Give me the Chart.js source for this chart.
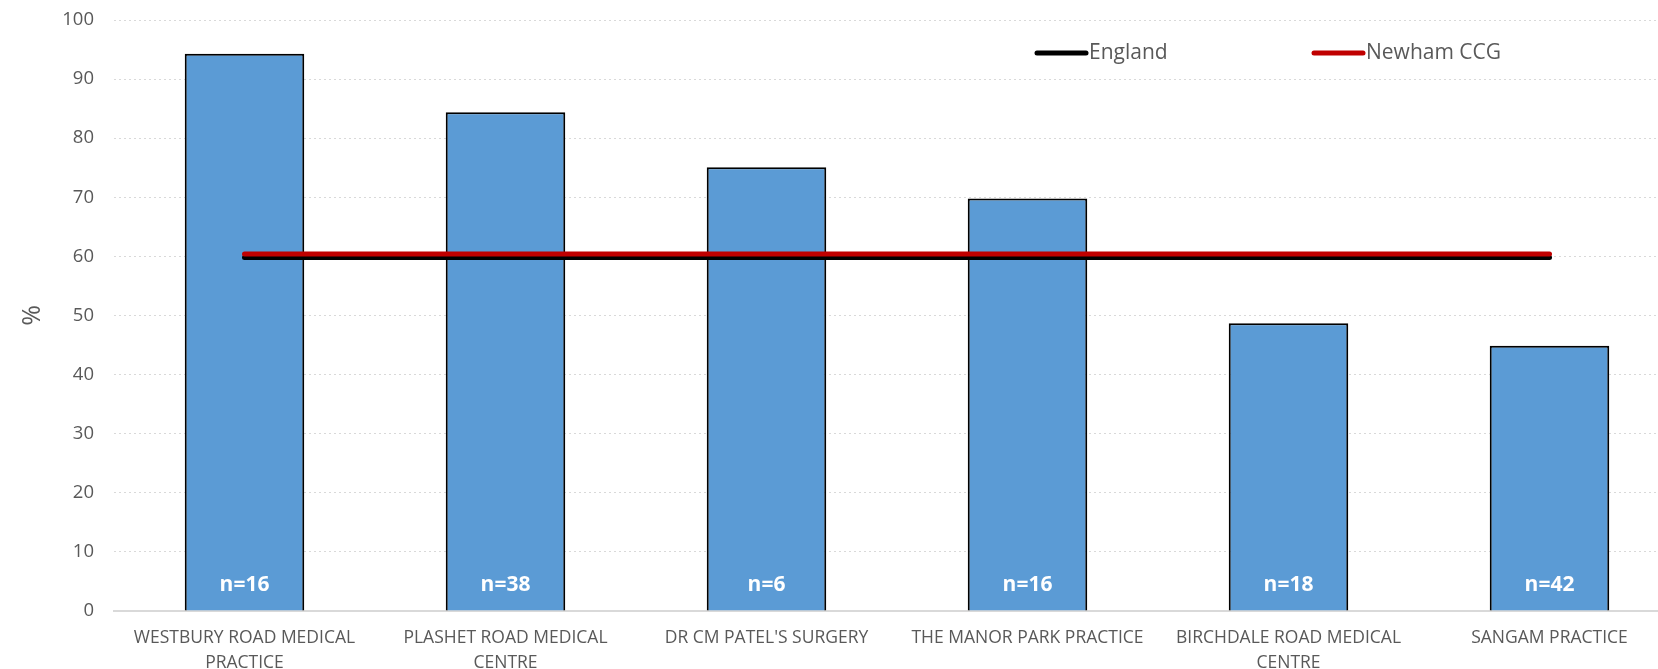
<!DOCTYPE html>
<html lang="en">
<head>
  <meta charset="UTF-8">
  <title>Practice chart</title>
  <script src="https://cdn.jsdelivr.net/npm/chart.js"></script>
  <style>
    html, body { margin: 0; background: #fff; overflow: hidden; }
    #wrap { width: 1658px; height: 669px; overflow: hidden; }
  </style>
</head>
<body>
  <!-- plot runs slightly past the right edge, as in the cropped original -->
  <div id="wrap"><canvas id="chart" width="1680" height="669"></canvas></div>

  <script>
    // Data
    const practices = [
      ['WESTBURY ROAD MEDICAL', 'PRACTICE'],
      ['PLASHET ROAD MEDICAL', 'CENTRE'],
      "DR CM PATEL'S SURGERY",
      'THE MANOR PARK PRACTICE',
      ['BIRCHDALE ROAD MEDICAL', 'CENTRE'],
      'SANGAM PRACTICE'
    ];
    const practiceValues = [94.3, 84.4, 75.1, 69.8, 48.7, 44.9];
    const sampleSizes = ['n=16', 'n=38', 'n=6', 'n=16', 'n=18', 'n=42'];
    const englandValues = [59.8, 59.8, 59.8, 59.8, 59.8, 59.8];
    const newhamValues = [60.4, 60.4, 60.4, 60.4, 60.4, 60.4];

    const FONT = "'Open Sans', sans-serif";

    // n= labels near the bottom of each bar
    const barLabels = {
      id: 'barLabels',
      afterDatasetsDraw(chart) {
        const ctx = chart.ctx;
        const meta = chart.getDatasetMeta(0);
        const base = chart.scales.y.getPixelForValue(0);
        ctx.save();
        ctx.fillStyle = '#ffffff';
        ctx.font = 'bold 21px ' + FONT;
        ctx.textAlign = 'center';
        ctx.textBaseline = 'middle';
        meta.data.forEach((bar, i) => {
          ctx.fillText(sampleSizes[i], bar.x, base - 26);
        });
        ctx.restore();
      }
    };

    // legend drawn inside the plot area
    const innerLegend = {
      id: 'innerLegend',
      afterDraw(chart) {
        const ctx = chart.ctx;
        const items = [
          { ds: chart.data.datasets[1], x: 1034 },
          { ds: chart.data.datasets[2], x: 1311 }
        ];
        const y = 53;
        ctx.save();
        items.forEach(item => {
          ctx.strokeStyle = item.ds.borderColor;
          ctx.lineWidth = 5;
          ctx.lineCap = 'round';
          ctx.beginPath();
          ctx.moveTo(item.x + 3, y);
          ctx.lineTo(item.x + 52, y);
          ctx.stroke();
          ctx.fillStyle = '#595959';
          ctx.font = '21px ' + FONT;
          ctx.textAlign = 'left';
          ctx.textBaseline = 'middle';
          ctx.fillText(item.ds.label, item.x + 55, y);
        });
        ctx.restore();
      }
    };

    new Chart(document.getElementById('chart').getContext('2d'), {
      type: 'bar',
      data: {
        labels: practices,
        datasets: [
          {
            label: 'Practice',
            data: practiceValues,
            backgroundColor: '#5B9BD5',
            borderColor: '#000000',
            borderWidth: 2,
            borderSkipped: 'bottom',
            categoryPercentage: 1,
            barPercentage: 0.458,
            order: 3
          },
          {
            type: 'line',
            label: 'England',
            data: englandValues,
            borderColor: '#000000',
            borderWidth: 5,
            borderCapStyle: 'round',
            pointRadius: 0,
            fill: false,
            order: 2
          },
          {
            type: 'line',
            label: 'Newham CCG',
            data: newhamValues,
            borderColor: '#C00000',
            borderWidth: 5,
            borderCapStyle: 'round',
            pointRadius: 0,
            fill: false,
            order: 1
          }
        ]
      },
      options: {
        responsive: false,
        animation: false,
        layout: { padding: { top: 0, right: 0, left: 0, bottom: 0 } },
        plugins: {
          legend: { display: false },
          tooltip: { enabled: false }
        },
        scales: {
          x: {
            grid: { display: false, drawTicks: false },
            border: { color: '#d9d9d9', width: 2 },
            ticks: {
              color: '#595959',
              font: { family: FONT, size: 17.5, lineHeight: 1.4 },
              padding: 15,
              maxRotation: 0,
              autoSkip: false
            },
            afterFit(scale) {
              scale.height = 58;
              scale.paddingLeft = 0;
              scale.paddingRight = 0;
            }
          },
          y: {
            min: 0,
            max: 100,
            ticks: {
              stepSize: 10,
              color: '#595959',
              font: { family: FONT, size: 18.5 },
              padding: 20
            },
            grid: {
              color: '#d9d9d9',
              lineWidth: 1,
              drawTicks: false
            },
            border: { display: false, dash: [2, 3] },
            title: {
              display: true,
              text: '%',
              color: '#595959',
              font: { family: FONT, size: 25 },
              padding: { top: 18, bottom: 0 }
            },
            afterFit(scale) {
              scale.width = 114;
              scale.paddingTop = 20;
              scale.paddingBottom = 0;
            }
          }
        }
      },
      plugins: [barLabels, innerLegend]
    });
  </script>
</body>
</html>
